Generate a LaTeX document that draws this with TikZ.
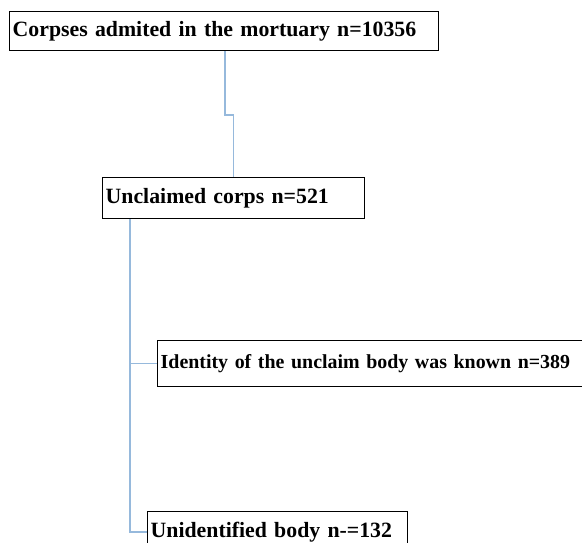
\documentclass[tikz,border=0pt]{standalone}
\usepackage{fontspec}
\setmainfont{Liberation Serif}
\definecolor{linkblue}{RGB}{150,185,220}
\tikzset{
	box/.style={draw=black, line width=1.4pt, anchor=north west, inner sep=3pt, align=left,
		font=\bfseries\fontsize{21.8}{26}\selectfont},
	link/.style={draw=linkblue, line width=1.4pt}
}
\begin{document}
	\begin{tikzpicture}[x=1pt, y=1pt]
		\clip ( 0, 0 ) rectangle ( 582, 543 );

		% boxes
		\node [box, text width=423pt, minimum height=39pt] (admitted) at ( 9, 532 ) {\mbox{Corpses admited in the mortuary n=10356}};
		\node [box, text width=256pt, minimum height=41pt] (unclaimed) at ( 102, 366 ) {\mbox{Unclaimed\ corps n=521}};
		\node [box, text width=440pt, minimum height=46pt, font=\bfseries\fontsize{19.9}{24}\selectfont] (known) at ( 157, 203 ) {\mbox{Identity\ of the unclaim\ body\ was\ known\ n=389}};
		\node [box, text width=254pt, minimum height=41pt] (unknown) at ( 147, 32 ) {\mbox{Unidentified\ body n-=132}};

		% connectors
		\coordinate (jog) at ( 225, 428 );
		\draw [link] (admitted.south-|jog) -- (jog) -| (unclaimed.north);
		\coordinate (trunk) at ( 130, 325 );
		\draw [link] (unclaimed.south-|trunk) |- (unknown.west);
		\draw [link] (trunk|-known.west) -- (known.west);
	\end{tikzpicture}
\end{document}
